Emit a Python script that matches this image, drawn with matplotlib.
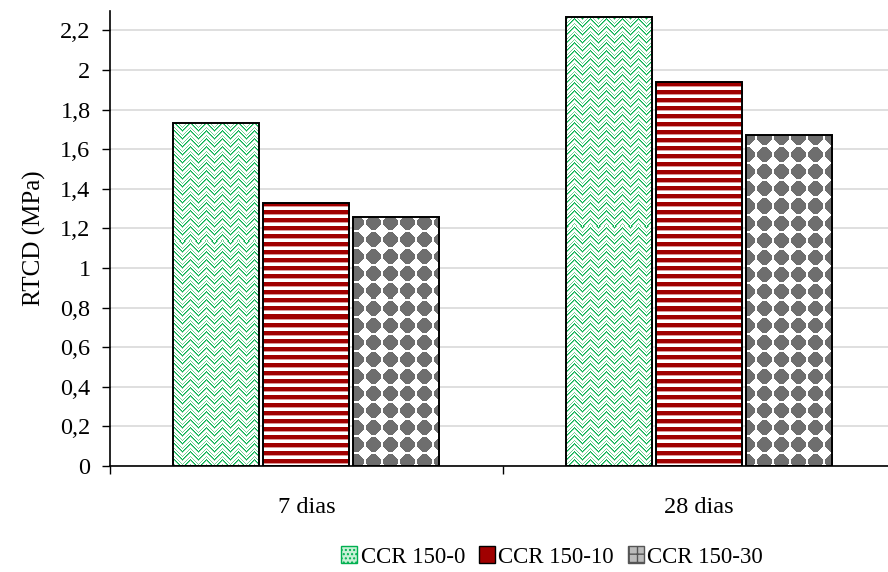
import matplotlib
matplotlib.use("Agg")
import matplotlib.pyplot as plt
import numpy as np
from matplotlib.patches import Patch

plt.rcParams["font.family"] = ["Liberation Serif", "DejaVu Serif"]

# Values read per age (MPa)
ages = ["7 dias", "28 dias"]
series_names = ["CCR 150-0", "CCR 150-10", "CCR 150-30"]
ccr_150_0 = [1.73, 2.27]
ccr_150_10 = [1.33, 1.94]
ccr_150_30 = [1.26, 1.67]
y_ticks = [0, 0.2, 0.4, 0.6, 0.8, 1, 1.2, 1.4, 1.6, 1.8, 2, 2.2]

DPI = 100
fig = plt.figure(figsize=(8.88, 5.72), dpi=DPI)
left, right, bottom, top = 110, 895.5, 466, 10.6
ax = fig.add_axes([left / 888, 1 - bottom / 572, (right - left) / 888, (bottom - top) / 572])
XLIM = (-0.5, 1.5)
YLIM = (0, 2.3)


def texture(kind, w, h):
    i, j = np.mgrid[0:h, 0:w]
    img = np.ones((h, w, 3))
    if kind == "green":
        zig = np.abs((j % 16) - 8)
        r = (i + zig) % 8
        dark = ((r == 0) | (r == 1)) & ((i + j) % 2 == 0)
        light = ((r == 1) | (r == 2) | (r == 5)) & ((i + j) % 2 == 1)
        img[light] = np.array([120, 210, 150]) / 255
        img[dark] = np.array([0, 176, 80]) / 255
    elif kind == "red":
        r = i % 8
        img[r < 4] = np.array([160, 0, 0]) / 255
        img[r == 4] = np.array([220, 150, 150]) / 255
    else:
        dx = np.abs((j % 17) - 8)
        dy = np.abs((i % 17) - 8)
        m = (dx + dy <= 9) & (np.maximum(dx, dy) <= 7)
        img[m] = np.array([110, 110, 110]) / 255
    return img


W = int(round(right - left))
H = int(round(bottom - top))
textures = [texture("green", W, H), texture("red", W, H), texture("grey", W, H)]

x = np.arange(len(ages))
width = 0.219
step = 0.229
all_series = [ccr_150_0, ccr_150_10, ccr_150_30]
for k, values in enumerate(all_series):
    pos = x + (k - 1) * step
    bars = ax.bar(pos, values, width=width, color="white", zorder=2)
    for bar in bars:
        im = ax.imshow(textures[k], extent=(*XLIM, *YLIM), origin="upper",
                       interpolation="nearest", aspect="auto", zorder=2.5)
        im.set_clip_path(bar)
    ax.bar(pos, values, width=width, fill=False, edgecolor="black",
           linewidth=1.4, zorder=3)

ax.set_xlim(*XLIM)
ax.set_ylim(*YLIM)
ax.set_yticks(y_ticks)
ax.set_yticklabels([f"{t:g}".replace(".", ",") for t in y_ticks])
ax.set_xticks(x)
ax.set_xticklabels(ages)
ax.set_xticks([-0.5, 0.5, 1.5], minor=True)
ax.tick_params(axis="x", which="major", length=0, labelsize=17.5, pad=22)
ax.tick_params(axis="x", which="minor", length=6, width=1, direction="out")
ax.tick_params(axis="y", length=6, width=1, direction="out", labelsize=17.5, pad=8)
ax.set_ylabel("RTCD (MPa)", fontsize=18, labelpad=10)
ax.yaxis.grid(True, color="#d9d9d9", linewidth=1.2)
ax.set_axisbelow(True)
for side in ("top", "right"):
    ax.spines[side].set_visible(False)
ax.spines["left"].set_linewidth(1.2)
ax.spines["bottom"].set_linewidth(1.2)

handles = [
    Patch(facecolor="#c8f0d6", edgecolor="#00b050", hatch="....", label=series_names[0]),
    Patch(facecolor="#a00000", edgecolor="black", label=series_names[1]),
    Patch(facecolor="#bbbbbb", edgecolor="#555555", hatch="++", label=series_names[2]),
]
fig.legend(handles=handles, loc="center", bbox_to_anchor=(552 / 888, 1 - 557 / 572),
           ncol=3, frameon=False, fontsize=16.5, handlelength=0.7, handleheight=0.7,
           handletextpad=0.15, columnspacing=0.6)

fig.savefig("out.png", dpi=DPI)
